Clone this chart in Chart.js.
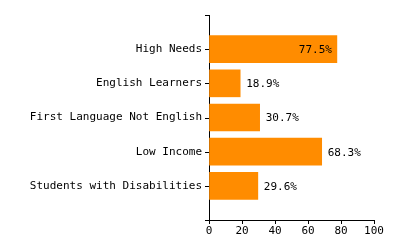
<!DOCTYPE html>
<html>
<head>
<meta charset="utf-8">
<script src="https://cdn.jsdelivr.net/npm/chart.js@4/dist/chart.umd.min.js"></script>
<style>
html,body{margin:0;padding:0;background:#fff;}
#wrap{width:400px;height:250px;position:relative;}
</style>
</head>
<body>
<div id="wrap"><canvas id="c" width="400" height="250"></canvas></div>
<script>
const categories = ['High Needs', 'English Learners', 'First Language Not English', 'Low Income', 'Students with Disabilities'];
const values = [77.5, 18.9, 30.7, 68.3, 29.6];
const xTicks = [0, 20, 40, 60, 80, 100];

const FONT = '"DejaVu Sans Mono", monospace';
// padded category list so bands sit between the axis ends
const yLabels = [''].concat(categories, ['']);
const yData = [null].concat(values, [null]);

const yTickMarks = {
  id: 'yTickMarks',
  afterDraw(chart) {
    const ys = chart.scales.y;
    const ctx = chart.ctx;
    const x0 = Math.round(chart.chartArea.left);
    ctx.save();
    ctx.fillStyle = '#000';
    ys.ticks.forEach((t, i) => {
      const y = Math.round(ys.getPixelForTick(i));
      ctx.fillRect(x0 - 4, y, 4, 1);
    });
    ctx.restore();
  }
};

const valueLabels = {
  id: 'valueLabels',
  afterDatasetsDraw(chart) {
    const ctx = chart.ctx;
    const meta = chart.getDatasetMeta(0);
    const xs = chart.scales.x;
    ctx.save();
    ctx.font = '11px ' + FONT;
    ctx.fillStyle = '#000';
    ctx.textBaseline = 'middle';
    meta.data.forEach((bar, i) => {
      const v = yData[i];
      if (v == null) return;
      const txt = v.toFixed(1) + '%';
      const xEnd = xs.getPixelForValue(v);
      const w = ctx.measureText(txt).width;
      if (xEnd + 6 + w > chart.chartArea.right) {
        ctx.textAlign = 'right';
        ctx.fillText(txt, xEnd - 5, bar.y + 1);
      } else {
        ctx.textAlign = 'left';
        ctx.fillText(txt, xEnd + 6, bar.y + 1);
      }
    });
    ctx.restore();
  }
};

new Chart(document.getElementById('c'), {
  type: 'bar',
  data: {
    labels: yLabels,
    datasets: [{
      data: yData,
      backgroundColor: '#FF8C00',
      borderWidth: 0,
      barThickness: 27
    }]
  },
  options: {
    indexAxis: 'y',
    responsive: false,
    animation: false,
    layout: { padding: { top: 15, right: 26, bottom: 0, left: 0 } },
    plugins: { legend: { display: false }, tooltip: { enabled: false } },
    scales: {
      y: {
        type: 'category',
        offset: false,
        grid: { offset: false, display: true, drawOnChartArea: false, drawTicks: false, color: '#000' },
        border: { color: '#000', width: 1 },
        ticks: { color: '#000', font: { family: FONT, size: 11 }, padding: 7, autoSkip: false },
        afterFit(s) { s.width = 209; }
      },
      x: {
        type: 'linear',
        min: 0, max: 100,
        afterBuildTicks(s) { s.ticks = xTicks.map(v => ({ value: v })); },
        grid: { drawOnChartArea: false, tickLength: 4, color: '#000', tickColor: '#000' },
        border: { color: '#000', width: 1 },
        ticks: { color: '#000', font: { family: FONT, size: 11 }, padding: 1, maxRotation: 0 },
        afterFit(s) { s.height = 30; }
      }
    }
  },
  plugins: [valueLabels, yTickMarks]
});
</script>
</body>
</html>
